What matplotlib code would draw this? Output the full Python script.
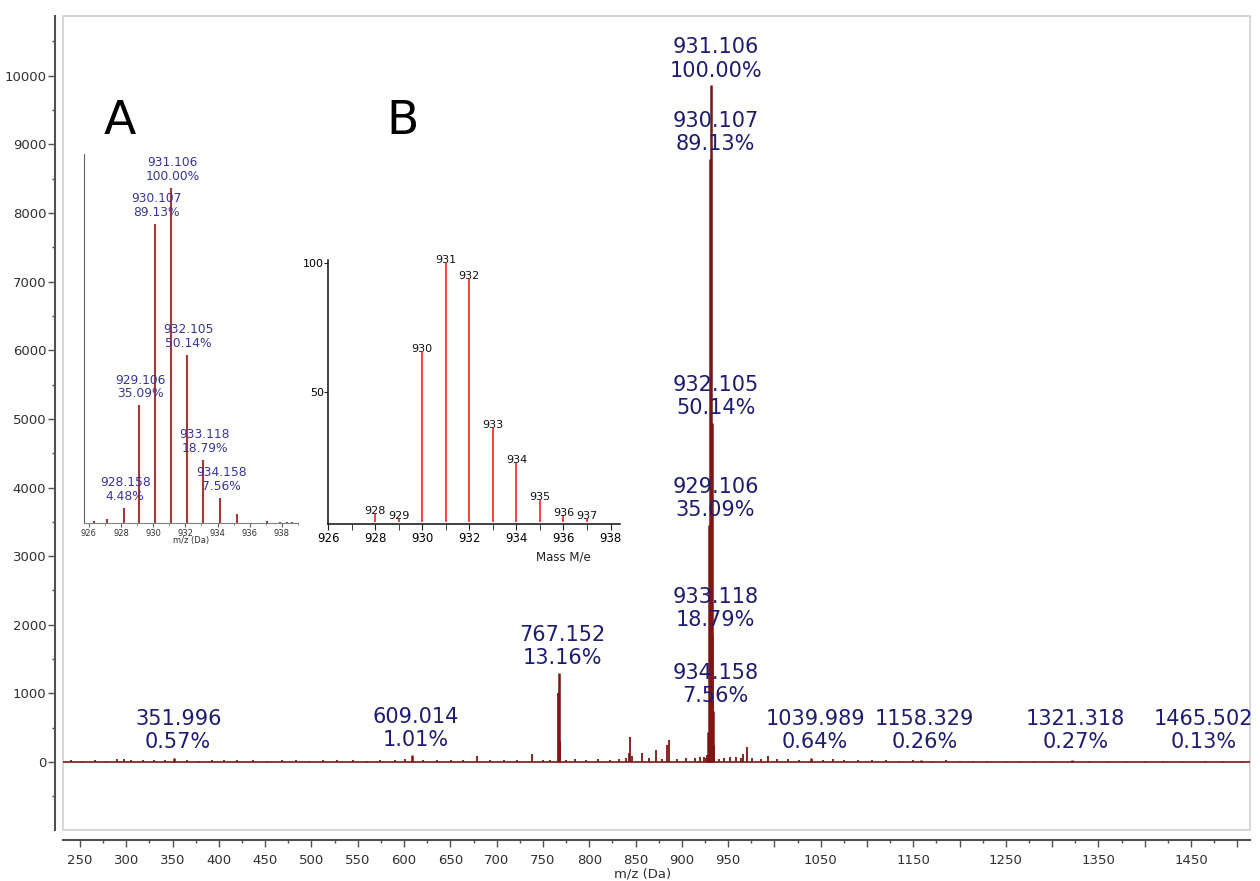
import matplotlib
matplotlib.use("Agg")
import matplotlib.pyplot as plt
from matplotlib.patches import Rectangle
from matplotlib.ticker import MultipleLocator, FixedLocator, FixedFormatter

# ---- main spectrum: labelled peaks
label_mz = [351.996, 609.014, 767.152, 928.158, 929.106, 930.107, 931.106,
            932.105, 933.118, 934.158, 1039.989, 1158.329, 1321.318, 1465.502]
label_int = [56, 100, 1300, 442, 3460, 8788, 9860,
             4944, 1853, 745, 63, 26, 27, 13]
label_pct = ["0.57%", "1.01%", "13.16%", "4.48%", "35.09%", "89.13%", "100.00%",
             "50.14%", "18.79%", "7.56%", "0.64%", "0.26%", "0.27%", "0.13%"]
# labels shown on the big plot (928.158 only appears in inset A)
shown = [True, True, True, False, True, True, True, True, True, True, True, True, True, True]

# ---- main spectrum: other peaks and baseline noise (no label)
minor_mz = [240, 252, 266, 278, 290, 297, 305, 318, 330, 342, 365, 378, 392, 405,
            420, 437, 452, 468, 483, 497, 512, 528, 545, 560, 574, 590, 601, 620,
            636, 651, 664, 679, 693, 708, 722, 738, 750, 758, 766.2, 768.2, 775,
            785, 797, 810, 822, 832, 840, 843, 844.5, 846, 857, 865, 872, 879,
            884, 886, 895, 905, 914, 920, 924, 926.3, 927.1, 935.2, 940, 946,
            952, 959, 964, 966, 970, 976, 985, 993, 1003, 1015, 1027, 1052, 1063,
            1075, 1090, 1105, 1120, 1135, 1150, 1170, 1185, 1200, 1215, 1230,
            1250, 1265, 1280, 1300, 1340, 1360, 1380, 1400, 1420, 1440, 1485, 1505]
minor_int = [25, 20, 30, 22, 40, 45, 28, 24, 35, 30, 25, 22, 30, 26,
             24, 28, 22, 25, 30, 22, 24, 28, 26, 22, 30, 25, 40, 30,
             25, 28, 24, 90, 30, 26, 35, 120, 30, 28, 1000, 300, 35,
             45, 30, 40, 35, 45, 60, 130, 370, 90, 130, 60, 175, 50,
             250, 320, 40, 60, 55, 70, 80, 60, 110, 250, 45, 60,
             80, 70, 55, 120, 220, 60, 40, 90, 40, 45, 35, 30, 40,
             28, 30, 25, 28, 22, 25, 20, 24, 18, 22, 20,
             18, 20, 17, 18, 16, 17, 15, 16, 15, 14, 13, 12]

# ---- inset A (isotope cluster, % of base peak)
a_mz = [926.3, 927.1, 928.158, 929.106, 930.107, 931.106, 932.105, 933.118,
        934.158, 935.2, 937.1, 937.9, 938.3, 938.6]
a_pct = [0.5, 1.2, 4.48, 35.09, 89.13, 100.0, 50.14, 18.79, 7.56, 2.6, 0.5, 0.3, 0.2, 0.2]
a_lab = [None, None, "928.158\n4.48%", "929.106\n35.09%", "930.107\n89.13%",
         "931.106\n100.00%", "932.105\n50.14%", "933.118\n18.79%", "934.158\n7.56%",
         None, None, None, None, None]

# ---- inset B (theoretical pattern)
b_mz = [928, 929, 930, 931, 932, 933, 934, 935, 936, 937]
b_pct = [3, 1, 65.4, 100, 93.8, 36.2, 22.7, 8.5, 2.5, 1]

SPEC = "#801414"
NAVY = "#1c1c73"

fig = plt.figure(figsize=(12.6, 8.81), dpi=100)
ax = fig.add_axes([63 / 1260, 1 - 830 / 881, 1187 / 1260, 814 / 881])

ax.axhline(0, color=SPEC, lw=1.2, zorder=2)
ax.vlines(minor_mz, 0, minor_int, color=SPEC, lw=1.3, zorder=2)
ax.vlines(label_mz, 0, label_int, color=SPEC, lw=1.8, zorder=2)

for mz, h, pct, s in zip(label_mz, label_int, label_pct, shown):
    if not s:
        continue
    if 925 < mz < 936:
        x = 936.5
    elif mz > 1400:
        x = mz - 2
    else:
        x = mz + 4
    y = max(h + 70, 145)
    ax.text(x, y, "%.3f\n%s" % (mz, pct), ha="center", va="bottom",
            fontsize=15, color=NAVY, linespacing=1.2, zorder=3)

ax.set_xlim(231.6, 1513.7)
ax.set_ylim(-990, 10870)

xt = list(range(250, 1501, 50))
xl = [str(v) if (v <= 950 or v % 100 == 50) else "" for v in xt]
ax.xaxis.set_major_locator(FixedLocator(xt))
ax.xaxis.set_major_formatter(FixedFormatter(xl))
ax.xaxis.set_minor_locator(MultipleLocator(25))
ax.yaxis.set_major_locator(FixedLocator(list(range(0, 10001, 1000))))
ax.yaxis.set_minor_locator(MultipleLocator(500))

for side in ["top", "right"]:
    ax.spines[side].set_visible(False)
ax.spines["left"].set_position(("outward", 6))
ax.spines["bottom"].set_position(("outward", 7))
for side in ["left", "bottom"]:
    ax.spines[side].set_color("#505050")
    ax.spines[side].set_linewidth(1.5)
ax.add_patch(Rectangle((0, 0), 1, 1, transform=ax.transAxes, fill=False,
                       edgecolor="#cfcfcf", lw=1.2, clip_on=False, zorder=1))

ax.tick_params(axis="both", which="major", direction="out", length=5, width=1,
               color="#505050", labelsize=9.5, labelcolor="#303030")
ax.tick_params(axis="both", which="minor", direction="out", length=2.5, width=1,
               color="#505050")
ax.tick_params(axis="y", which="major", pad=1)
ax.tick_params(axis="x", which="major", pad=5)
ax.set_xlabel("m/z (Da)", fontsize=9.5, color="#303030")
ax.xaxis.set_label_coords(0.488, -0.046)

# ---- inset A
axa = fig.add_axes([84 / 1260, 1 - 523 / 881, 214 / 1260, 369 / 881])
axa.patch.set_alpha(0)
axa.vlines(a_mz, 0, a_pct, color="#a83838", lw=1.5)
for mz, p, t in zip(a_mz, a_pct, a_lab):
    if t:
        axa.text(mz + 0.1, p + 1.5, t, ha="center", va="bottom", fontsize=8.8,
                 color="#3535a0", linespacing=1.05)
axa.set_xlim(925.7, 939)
axa.set_ylim(0, 110)
axa.set_yticks([])
axa.xaxis.set_major_locator(MultipleLocator(2))
axa.xaxis.set_minor_locator(MultipleLocator(1))
axa.tick_params(axis="x", which="major", length=3, labelsize=6, pad=1,
                labelcolor="#303030", color="#606060")
axa.tick_params(axis="x", which="minor", length=1.5, color="#606060")
for side in ["top", "right"]:
    axa.spines[side].set_visible(False)
axa.spines["left"].set_color("#606060")
axa.spines["bottom"].set_color("#808080")
axa.set_xlabel("m/z (Da)", fontsize=6, color="#303030", labelpad=-1)

# ---- inset B
axb = fig.add_axes([328 / 1260, 1 - 524 / 881, 292 / 1260, 264 / 881])
axb.patch.set_alpha(0)
axb.vlines(b_mz, 0, b_pct, color="#ff3030", lw=1.3)
for mz, p in zip(b_mz, b_pct):
    axb.text(mz, p - 0.8, str(mz), ha="center", va="bottom", fontsize=8,
             color="#101010")
axb.set_xlim(926, 938.4)
axb.set_ylim(-0.8, 101)
axb.xaxis.set_major_locator(MultipleLocator(2))
axb.xaxis.set_minor_locator(MultipleLocator(1))
axb.set_yticks([50, 100])
axb.set_yticklabels(["50", "100"])
axb.tick_params(axis="x", which="both", length=4, labelsize=8.5, pad=2, color="#202020")
axb.tick_params(axis="y", length=3, labelsize=8, pad=0, color="#202020")
for side in ["top", "right"]:
    axb.spines[side].set_visible(False)
for side in ["left", "bottom"]:
    axb.spines[side].set_color("#202020")
    axb.spines[side].set_linewidth(1.2)
axb.text(936, -11, "Mass M/e", ha="center", va="top", fontsize=8.5,
         color="#202020")

fig.text(120 / 1260, 1 - 122 / 881, "A", fontsize=34, ha="center", va="center")
fig.text(403 / 1260, 1 - 122 / 881, "B", fontsize=34, ha="center", va="center")

plt.savefig("out.png", dpi=100)
